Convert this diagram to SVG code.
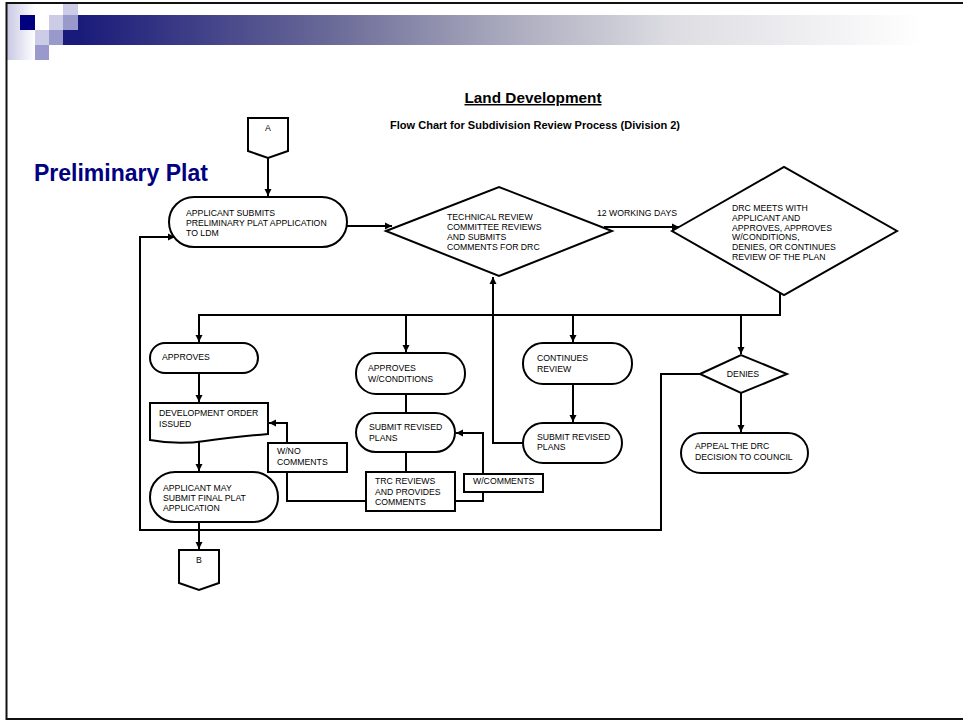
<svg xmlns="http://www.w3.org/2000/svg" width="963" height="721" viewBox="0 0 963 721">
<defs>
<linearGradient id="bar" x1="0" y1="0" x2="1" y2="0">
<stop offset="0" stop-color="#1a1a7a"/>
<stop offset="0.3" stop-color="#6a6a98"/>
<stop offset="0.5" stop-color="#a8a8bc"/>
<stop offset="0.7" stop-color="#dcdce2"/>
<stop offset="1" stop-color="#ffffff"/>
</linearGradient>
<linearGradient id="strip" x1="0" y1="0" x2="1" y2="0">
<stop offset="0" stop-color="#c8c8e4"/>
<stop offset="1" stop-color="#ffffff"/>
</linearGradient>
<marker id="ar" markerUnits="userSpaceOnUse" markerWidth="8" markerHeight="8" refX="7" refY="4" orient="auto">
<path d="M0,0.5 L7,4 L0,7.5 Z" fill="#000"/>
</marker>
<style>
.n{fill:#fff;stroke:#000;stroke-width:2}
.c{fill:none;stroke:#000;stroke-width:2}
.t{font-family:"Liberation Sans",Arial,sans-serif;font-size:8.7px;fill:#000}
</style>
</defs>
<rect x="0" y="0" width="963" height="721" fill="#fff"/>
<g id="header">
<rect x="7" y="4" width="28" height="56" fill="url(#strip)"/>
<rect x="78" y="15" width="845" height="30" fill="url(#bar)"/>
<rect x="63" y="30" width="15" height="15" fill="#1a1a7a"/>
<rect x="20" y="15" width="15" height="15" fill="#000080"/>
<rect x="49" y="15" width="14" height="15" fill="#ccccE6"/>
<rect x="63" y="4" width="15" height="11" fill="#ccccE6"/>
<rect x="63" y="15" width="15" height="15" fill="#9999CC"/>
<rect x="35" y="30" width="14" height="15" fill="#ccccE6"/>
<rect x="49" y="30" width="14" height="15" fill="#9999CC"/>
<rect x="35" y="45" width="14" height="15" fill="#9999CC"/>
<path d="M963,3 H6.5 V719 H963" fill="none" stroke="#111" stroke-width="2"/>
</g>
<g id="titles">
<text x="533" y="103" text-anchor="middle" font-family="Liberation Sans,Arial,sans-serif" font-weight="bold" font-size="14.5" text-decoration="underline" textLength="137" lengthAdjust="spacingAndGlyphs">Land Development</text>
<text x="390" y="129" font-family="Liberation Sans,Arial,sans-serif" font-weight="bold" font-size="10.3" textLength="290" lengthAdjust="spacingAndGlyphs">Flow Chart for Subdivision Review Process (Division 2)</text>
<text x="34" y="181" font-family="Liberation Sans,Arial,sans-serif" font-weight="bold" font-size="23" fill="#000080">Preliminary Plat</text>
</g>
<g id="connectors">
<path class="c" d="M268,158 V196" marker-end="url(#ar)"/>
<path class="c" d="M347,226 H392" marker-end="url(#ar)"/>
<path class="c" d="M604,227 H679" marker-end="url(#ar)"/>
<path class="c" d="M780,293 V315 H199 V342" marker-end="url(#ar)"/>
<path class="c" d="M406,315 V352" marker-end="url(#ar)"/>
<path class="c" d="M573,315 V342" marker-end="url(#ar)"/>
<path class="c" d="M741,315 V354" marker-end="url(#ar)"/>
<path class="c" d="M199,373 V402" marker-end="url(#ar)"/>
<path class="c" d="M199,441 V471" marker-end="url(#ar)"/>
<path class="c" d="M199,522 V549" marker-end="url(#ar)"/>
<path class="c" d="M700,374 H661 V530 H140 V237 H175" marker-end="url(#ar)"/>
<path class="c" d="M741,393 V432" marker-end="url(#ar)"/>
<path class="c" d="M573,384 V422" marker-end="url(#ar)"/>
<path class="c" d="M523,443 H493 V277" marker-end="url(#ar)"/>
<path class="c" d="M406,394 V413"/>
<path class="c" d="M406,452 V472"/>
<path class="c" d="M366,501 H287 V423 H269" marker-end="url(#ar)"/>
<path class="c" d="M455,501 H483 V433 H456" marker-end="url(#ar)"/>
<text class="t" x="597" y="216">12 WORKING DAYS</text>
</g>
<g id="connA">
<path class="n" d="M248,118 H288 V151 L268,158 L248,151 Z"/>
<text class="t" x="268" y="131" text-anchor="middle" font-size="7">A</text>
</g>
<g id="connB">
<path class="n" d="M179,550 H219 V583 L199,590 L179,583 Z"/>
<text class="t" x="199" y="563" text-anchor="middle" font-size="7">B</text>
</g>
<g id="submit">
<rect class="n" x="169" y="197" width="178" height="50" rx="25"/>
<text class="t" x="186" y="216">APPLICANT SUBMITS</text>
<text class="t" x="186" y="226">PRELIMINARY PLAT APPLICATION</text>
<text class="t" x="186" y="236">TO LDM</text>
</g>
<g id="trc">
<path class="n" d="M386,231 L499,187 L612,231 L499,276 Z"/>
<text class="t" x="447" y="220">TECHNICAL REVIEW</text>
<text class="t" x="447" y="230">COMMITTEE REVIEWS</text>
<text class="t" x="447" y="240">AND SUBMITS</text>
<text class="t" x="447" y="250">COMMENTS FOR DRC</text>
</g>
<g id="drc">
<path class="n" d="M672,231 L784,167 L897,231 L784,295 Z"/>
<text class="t" x="732" y="211">DRC MEETS WITH</text>
<text class="t" x="732" y="221">APPLICANT AND</text>
<text class="t" x="732" y="231">APPROVES, APPROVES</text>
<text class="t" x="732" y="240">W/CONDITIONS,</text>
<text class="t" x="732" y="250">DENIES, OR CONTINUES</text>
<text class="t" x="732" y="260">REVIEW OF THE PLAN</text>
</g>
<g id="approves">
<rect class="n" x="150" y="343" width="108" height="30" rx="15"/>
<text class="t" x="162" y="360">APPROVES</text>
</g>
<g id="devorder">
<path class="n" d="M150,403 H268 V434 C245,436 225,438 205,441 C185,444 166,443 150,440 Z"/>
<text class="t" x="159" y="416">DEVELOPMENT ORDER</text>
<text class="t" x="159" y="427">ISSUED</text>
</g>
<g id="final">
<rect class="n" x="150" y="472" width="128" height="50" rx="25"/>
<text class="t" x="163" y="491">APPLICANT MAY</text>
<text class="t" x="163" y="501">SUBMIT FINAL PLAT</text>
<text class="t" x="163" y="511">APPLICATION</text>
</g>
<g id="approvescond">
<rect class="n" x="356" y="353" width="109" height="41" rx="20"/>
<text class="t" x="368" y="371">APPROVES</text>
<text class="t" x="368" y="382">W/CONDITIONS</text>
</g>
<g id="submitrev1">
<rect class="n" x="356" y="413" width="99" height="39" rx="19.5"/>
<text class="t" x="369" y="430">SUBMIT REVISED</text>
<text class="t" x="369" y="441">PLANS</text>
</g>
<g id="trcreviews">
<rect class="n" x="366" y="472" width="89" height="39"/>
<text class="t" x="375" y="484">TRC REVIEWS</text>
<text class="t" x="375" y="495">AND PROVIDES</text>
<text class="t" x="375" y="505">COMMENTS</text>
</g>
<g id="wnocomments">
<rect class="n" x="268" y="443" width="79" height="29"/>
<text class="t" x="277" y="454">W/NO</text>
<text class="t" x="277" y="465">COMMENTS</text>
</g>
<g id="wcomments">
<rect class="n" x="464" y="474" width="79" height="18"/>
<text class="t" x="473" y="484">W/COMMENTS</text>
</g>
<g id="continues">
<rect class="n" x="523" y="343" width="109" height="41" rx="20"/>
<text class="t" x="537" y="361">CONTINUES</text>
<text class="t" x="537" y="372">REVIEW</text>
</g>
<g id="submitrev2">
<rect class="n" x="523" y="423" width="99" height="40" rx="20"/>
<text class="t" x="537" y="440">SUBMIT REVISED</text>
<text class="t" x="537" y="450">PLANS</text>
</g>
<g id="denies">
<path class="n" d="M700,374 L741,355 L787,374 L741,393 Z"/>
<text class="t" x="743" y="377" text-anchor="middle">DENIES</text>
</g>
<g id="appeal">
<rect class="n" x="681" y="433" width="127" height="40" rx="20"/>
<text class="t" x="695" y="449">APPEAL THE DRC</text>
<text class="t" x="695" y="460">DECISION TO COUNCIL</text>
</g>
</svg>
